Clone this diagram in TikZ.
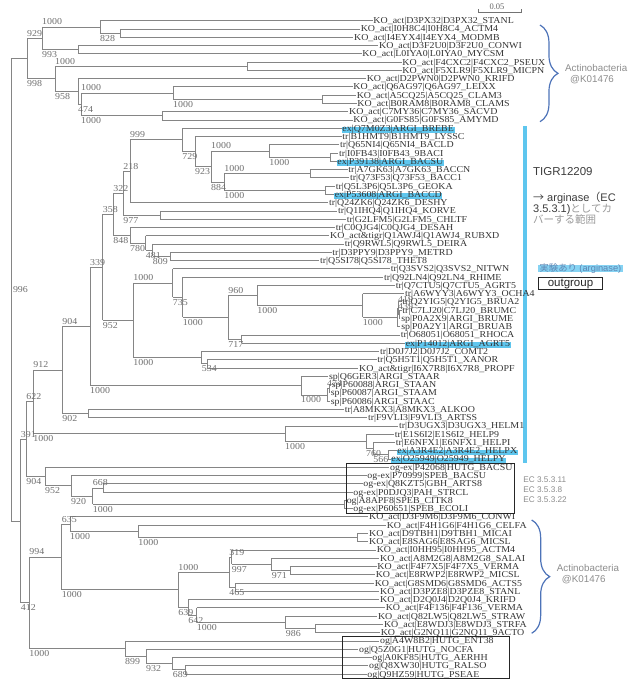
\documentclass[tikz,border=0pt]{standalone}
\usepackage{fontspec}
\setmainfont{Liberation Serif}
\setsansfont{Liberation Sans}
\newfontfamily\lblfont[FakeStretch=1.09]{Liberation Serif}
\newfontfamily\jpfont{Noto Sans CJK JP}
\usetikzlibrary{decorations.pathreplacing}
\definecolor{brgray}{HTML}{858585}
\definecolor{lftxt}{HTML}{333333}
\definecolor{bstxt}{HTML}{6E6E6E}
\definecolor{hlblue}{HTML}{5EC6EE}
\definecolor{hllight}{HTML}{86D3F3}
\definecolor{bracec}{HTML}{4D73B8}
\definecolor{anngray}{HTML}{8C8C8C}
\definecolor{darktxt}{HTML}{3C3C3C}
\definecolor{jpgray}{HTML}{9A9A9A}
\definecolor{exptxt}{HTML}{5F86B4}
\newcounter{bsc}
\tikzset{
  brl/.style={draw=brgray, line width=0.8pt},
  lflab/.style={anchor=base west, inner xsep=0.6pt, inner ysep=0pt, yshift=-3.0pt,
                text height=5.8pt, text depth=1.1pt,
                font=\lblfont\fontsize{9.1}{9.5}\selectfont, text=lftxt},
  lfhl/.style={lflab, fill=hlblue, text height=4.2pt, text depth=1.5pt},
  bsup/.style={anchor=south west, inner sep=0pt, yshift=1.8pt,
               font=\lblfont\fontsize{9.1}{9.5}\selectfont, text=bstxt},
  bsdn/.style={anchor=north west, inner sep=0pt, yshift=-1.8pt,
               font=\lblfont\fontsize{9.1}{9.5}\selectfont, text=bstxt},
  bsfree/.style={anchor=west, inner sep=0pt, font=\lblfont\fontsize{9.1}{9.5}\selectfont, text=bstxt},
  brc/.style={draw=bracec, line width=1.2pt, decorate, decoration={brace, amplitude=18pt}},
  annot/.style={anchor=west, inner sep=0pt, font=\sffamily\fontsize{9.8}{10}\selectfont, text=anngray},
  ecl/.style={anchor=west, inner sep=0pt, font=\sffamily\fontsize{8.2}{9}\selectfont, text=anngray},
  obox/.style={draw=black!85, line width=0.9pt},
  sbar/.style={draw=black!55, line width=0.7pt}
}
% leaf: index, tip x, parent x, text
\newcommand\lf[4]{\draw[brl] (#3,#1) -- (#2,#1); \node[lflab] (l#1) at (#2,#1) {#4};}
\newcommand\lfh[4]{\draw[brl] (#3,#1) -- (#2,#1); \node[lfhl] (l#1) at (#2,#1) {#4};}
% internal node: x, first child y, last child y, parent x
\newcommand\nd[4]{\draw[brl] (#4,{(#2+#3)/2}) -- (#1,{(#2+#3)/2}) (#1,#2) -- (#1,#3);}
\newcommand\bu[3]{\stepcounter{bsc}\node[bsup] (bs\arabic{bsc}) at (#1,#2) {#3};}
\newcommand\bd[3]{\stepcounter{bsc}\node[bsdn] (bs\arabic{bsc}) at (#1,#2) {#3};}
\begin{document}
\begin{tikzpicture}[x=1pt, y=-8.27pt]
\useasboundingbox (0,-1.503) rectangle (640,81.33);
% background bar
\begin{scope}[y=-1pt, yshift=12.43pt]
  \fill[hlblue] (522.7,126) rectangle (527.3,463);
\end{scope}
% ---------- leaves
\lf{1}{372.7}{100}{KO\_act|D3PX32|D3PX32\_STANL}
\lf{2}{360}{120}{KO\_act|I0H8C4|I0H8C4\_ACTM4}
\lf{3}{353.3}{120}{KO\_act|I4EYX4|I4EYX4\_MODMB}
\lf{4}{378.3}{78}{KO\_act|D3F2U0|D3F2U0\_CONWI}
\lf{5}{361.7}{78}{KO\_act|L0IYA0|L0IYA0\_MYCSM}
\lf{6}{401.7}{247}{KO\_act|F4CXC2|F4CXC2\_PSEUX}
\lf{7}{401.7}{247}{KO\_act|F5XLR9|F5XLR9\_MICPN}
\lf{8}{366}{78}{KO\_act|D2PWN0|D2PWN0\_KRIFD}
\lf{9}{352.7}{173}{KO\_act|Q6AG97|Q6AG97\_LEIXX}
\lf{10}{356}{322}{KO\_act|A5CQ25|A5CQ25\_CLAM3}
\lf{11}{356.7}{322}{KO\_act|B0RAM8|B0RAM8\_CLAMS}
\lf{12}{348.3}{162}{KO\_act|C7MY36|C7MY36\_SACVD}
\lf{13}{352.7}{162}{KO\_act|G0FS85|G0FS85\_AMYMD}
\lfh{14}{341.7}{182.3}{ex|Q7M0Z3|ARGI\_BREBE}
\lf{15}{341.7}{195}{tr|B1HMT9|B1HMT9\_LYSSC}
\lf{16}{339.3}{269.3}{tr|Q65NI4|Q65NI4\_BACLD}
\lf{17}{338.3}{330}{tr|I0FB43|I0FB43\_9BACI}
\lfh{18}{336.7}{330}{ex|P39138|ARGI\_BACSU}
\lf{19}{347.7}{310}{tr|A7GK63|A7GK63\_BACCN}
\lf{20}{349.3}{310}{tr|Q73F53|Q73F53\_BACC1}
\lf{21}{335}{325}{tr|Q5L3P6|Q5L3P6\_GEOKA}
\lfh{22}{334}{325}{ex|P53608|ARGI\_BACCD}
\lf{23}{328.3}{130}{tr|Q24ZK6|Q24ZK6\_DESHY}
\lf{24}{337.3}{160}{tr|Q1IHQ4|Q1IHQ4\_KORVE}
\lf{25}{346}{160}{tr|G2LFM5|G2LFM5\_CHLTF}
\lf{26}{335}{130}{tr|C0QJG4|C0QJG4\_DESAH}
\lf{27}{329.3}{145.7}{KO\_act\&tigr|Q1AWJ4|Q1AWJ4\_RUBXD}
\lf{28}{344}{152.7}{tr|Q9RWL5|Q9RWL5\_DEIRA}
\lf{29}{331.7}{170}{tr|D3PPY9|D3PPY9\_METRD}
\lf{30}{319.3}{170}{tr|Q5SI78|Q5SI78\_THET8}
\lf{31}{390}{172.7}{tr|Q3SVS2|Q3SVS2\_NITWN}
\lf{32}{383.3}{182.7}{tr|Q92LN4|Q92LN4\_RHIME}
\lf{33}{395}{257.3}{tr|Q7CTU5|Q7CTU5\_AGRT5}
\lf{34}{404.3}{362.7}{tr|A6WYY3|A6WYY3\_OCHA4}
\lf{35}{401.7}{398.5}{tr|Q2YIG5|Q2YIG5\_BRUA2}
\lf{36}{401.7}{399.5}{tr|C7LJ20|C7LJ20\_BRUMC}
\lf{37}{400.5}{399.5}{sp|P0A2X9|ARGI\_BRUME}
\lf{38}{400.5}{397.5}{sp|P0A2Y1|ARGI\_BRUAB}
\lf{39}{400}{241.7}{tr|O68051|O68051\_RHOCA}
\lfh{40}{405}{241.7}{ex|P14012|ARGI\_AGRT5}
\lf{41}{379.3}{201.7}{tr|D0J7J2|D0J7J2\_COMT2}
\lf{42}{376.7}{207}{tr|Q5H5T1|Q5H5T1\_XANOR}
\lf{43}{358.3}{207}{KO\_act\&tigr|I6X7R8|I6X7R8\_PROPF}
\lf{44}{328.3}{301}{sp|Q6GER3|ARGI\_STAAR}
\lf{45}{331}{329}{sp|P60088|ARGI\_STAAN}
\lf{46}{330}{329}{sp|P60087|ARGI\_STAAM}
\lf{47}{330}{327}{sp|P60086|ARGI\_STAAC}
\lf{48}{344}{88.3}{tr|A8MKX3|A8MKX3\_ALKOO}
\lf{49}{367.3}{88.3}{tr|F9VLI3|F9VLI3\_ARTSS}
\lf{50}{398.3}{285}{tr|D3UGX3|D3UGX3\_HELM1}
\lf{51}{394}{366}{tr|E1S6I2|E1S6I2\_HELP9}
\lf{52}{395}{373.3}{tr|E6NFX1|E6NFX1\_HELPI}
\lfh{53}{396.7}{388}{ex|A3R4E2|A3R4E2\_HELPX}
\lfh{54}{390.7}{388}{ex|O25949|O25949\_HELPY}
\lf{55}{389.3}{45}{og-ex|P42068|HUTG\_BACSU}
\lf{56}{366.7}{71}{og-ex|P70999|SPEB\_BACSU}
\lf{57}{362.7}{103.3}{og-ex|Q8KZT5|GBH\_ARTS8}
\lf{58}{352.7}{103.3}{og-ex|P0DJQ3|PAH\_STRCL}
\lf{59}{346}{344}{og|A8APF8|SPEB\_CITK8}
\lf{60}{352.7}{344}{og-ex|P60651|SPEB\_ECOLI}
\lf{61}{368.3}{70}{KO\_act|D3F9M6|D3F9M6\_CONWI}
\lf{62}{386}{138.3}{KO\_act|F4H1G6|F4H1G6\_CELFA}
\lf{63}{368.3}{357.7}{KO\_act|D9TBH1|D9TBH1\_MICAI}
\lf{64}{368.3}{357.7}{KO\_act|E8SAG6|E8SAG6\_MICSL}
\lf{65}{376}{231.7}{KO\_act|I0HH95|I0HH95\_ACTM4}
\lf{66}{379.3}{271.7}{KO\_act|A8M2G8|A8M2G8\_SALAI}
\lf{67}{376.7}{290}{KO\_act|F4F7X5|F4F7X5\_VERMA}
\lf{68}{375}{290}{KO\_act|E8RWP2|E8RWP2\_MICSL}
\lf{69}{374}{235}{KO\_act|G8SMD6|G8SMD6\_ACTS5}
\lf{70}{379.3}{235}{KO\_act|D3PZE8|D3PZE8\_STANL}
\lf{71}{379.3}{188.3}{KO\_act|D2Q0J4|D2Q0J4\_KRIFD}
\lf{72}{385}{196.7}{KO\_act|F4F136|F4F136\_VERMA}
\lf{73}{377.3}{285.7}{KO\_act|Q82LW5|Q82LW5\_STRAW}
\lf{74}{383.3}{315.7}{KO\_act|E8WDJ3|E8WDJ3\_STRFA}
\lf{75}{380}{315.7}{KO\_act|G2NQ11|G2NQ11\_9ACTO}
\lf{76}{379.3}{125}{og|A4W8B2|HUTG\_ENT38}
\lf{77}{358.3}{146}{og|Q5Z0G1|HUTG\_NOCFA}
\lf{78}{371.7}{172.7}{og|A0KF85|HUTG\_AERHH}
\lf{79}{368.3}{185}{og|Q8XW30|HUTG\_RALSO}
\lf{80}{366.7}{185}{og|Q9HZ59|HUTG\_PSEAE}
% ---------- internal nodes
\nd{120}{2}{3}{100}
\nd{100}{1}{2.5}{42}
\nd{78}{4}{5}{42}
\nd{42}{1.75}{4.5}{27}
\nd{247}{6}{7}{55}
\nd{322}{10}{11}{173}
\nd{173}{9}{10.5}{81}
\nd{162}{12}{13}{81}
\nd{81}{9.75}{12.5}{78}
\nd{78}{8}{11.125}{55}
\nd{55}{6.5}{9.5625}{27}
\nd{27}{3.125}{8.03125}{11}
\nd{330}{17}{18}{269.3}
\nd{269.3}{16}{17.5}{211}
\nd{310}{19}{20}{224.3}
\nd{325}{21}{22}{224.3}
\nd{224.3}{19.5}{21.5}{211}
\nd{211}{16.75}{20.5}{195}
\nd{195}{15}{18.625}{182.3}
\nd{182.3}{14}{16.8125}{130}
\nd{130}{15.40625}{23}{123.3}
\nd{160}{24}{25}{123.3}
\nd{123.3}{19.203125}{24.5}{113.3}
\nd{170}{29}{30}{152.7}
\nd{152.7}{28}{29.5}{145.7}
\nd{145.7}{27}{28.75}{130}
\nd{130}{26}{27.875}{113.3}
\nd{113.3}{21.8515625}{26.9375}{102.7}
\nd{399.5}{36}{37}{398.5}
\nd{398.5}{35}{36.5}{397.5}
\nd{397.5}{35.75}{38}{362.7}
\nd{362.7}{34}{36.875}{257.3}
\nd{257.3}{33}{35.4375}{228.3}
\nd{241.7}{39}{40}{228.3}
\nd{228.3}{34.21875}{39.5}{182.7}
\nd{182.7}{32}{36.859375}{172.7}
\nd{172.7}{31}{34.4296875}{133.3}
\nd{207}{42}{43}{201.7}
\nd{201.7}{41}{42.5}{133.3}
\nd{133.3}{32.71484}{41.75}{102.7}
\nd{102.7}{24.39453}{37.23242}{90}
\nd{329}{45}{46}{327}
\nd{327}{45.5}{47}{301}
\nd{301}{44}{46.25}{90}
\nd{90}{30.81348}{45.125}{62.3}
\nd{88.3}{48}{49}{62.3}
\nd{62.3}{37.96924}{48.5}{33.3}
\nd{388}{53}{54}{373.3}
\nd{373.3}{52}{53.5}{366}
\nd{366}{51}{52.75}{285}
\nd{285}{50}{51.875}{33.3}
\nd{33.3}{43.23462}{50.9375}{26.3}
\nd{103.3}{57}{58}{92.7}
\nd{344}{59}{60}{92.7}
\nd{92.7}{57.5}{59.5}{71}
\nd{71}{56}{58.5}{45}
\nd{45}{55}{57.25}{26.3}
\nd{26.3}{47.08606}{56.125}{20.7}
\nd{357.7}{63}{64}{138.3}
\nd{138.3}{62}{63.5}{70}
\nd{70}{61}{62.75}{61.7}
\nd{290}{67}{68}{271.7}
\nd{271.7}{66}{67.5}{231.7}
\nd{231.7}{65}{66.75}{229.3}
\nd{235}{69}{70}{229.3}
\nd{229.3}{65.875}{69.5}{178.3}
\nd{315.7}{74}{75}{285.7}
\nd{285.7}{73}{74.5}{196.7}
\nd{196.7}{72}{73.75}{188.3}
\nd{188.3}{71}{72.875}{178.3}
\nd{178.3}{67.6875}{71.9375}{61.7}
\nd{61.7}{61.875}{69.8125}{29.3}
\nd{185}{79}{80}{172.7}
\nd{172.7}{78}{79.5}{146}
\nd{146}{77}{78.75}{125}
\nd{125}{76}{77.875}{29.3}
\nd{29.3}{65.84375}{76.9375}{20.7}
\nd{20.7}{51.60553}{71.39063}{11}
\draw[brl] (11,5.578125) -- (11,61.49808);
% ---------- bootstrap values
\node[bsfree] (root) at (12.8,33.54) {996};
\bu{27}{3.125}{929}
\bd{27}{8.03125}{998}
\bu{42}{1.75}{1000}
\bd{42}{4.5}{993}
\bd{100}{2.5}{828}
\bu{55}{6.5}{1000}
\bd{55}{9.5625}{958}
\bd{78}{11.125}{474}
\bu{81}{9.75}{1000}
\bd{81}{12.5}{1000}
\bd{173}{10.5}{1000}
\bu{130}{15.40625}{999}
\bd{182.3}{16.8125}{729}
\bd{195}{18.625}{923}
\bu{211}{16.75}{1000}
\bd{211}{20.5}{884}
\bd{269.3}{17.5}{1000}
\bu{224.3}{19.5}{1000}
\bd{224.3}{21.5}{1000}
\bu{123.3}{19.203125}{218}
\bd{123.3}{24.5}{977}
\bu{113.3}{21.8515625}{322}
\bd{113.3}{26.9375}{848}
\bd{130}{27.875}{780}
\bd{145.7}{28.75}{481}
\bd{152.7}{29.5}{809}
\bu{102.7}{24.39453}{358}
\bd{102.7}{37.23242}{952}
\bu{90}{30.81348}{339}
\bd{90}{45.125}{1000}
\bu{133.3}{32.71484}{1000}
\bd{133.3}{41.75}{1000}
\bd{172.7}{34.4296875}{735}
\bd{182.7}{36.859375}{1000}
\bu{228.3}{34.21875}{960}
\bd{228.3}{39.5}{717}
\bd{257.3}{35.4375}{1000}
\bd{362.7}{36.875}{1000}
\bd{201.7}{42.5}{534}
\node[bsfree] (b419) at (398,34.77) {419};
\node[bsfree] (b439) at (398,35.62) {439};
\bu{327}{45.5}{474}
\bd{301}{46.25}{1000}
\bu{62.3}{37.96924}{904}
\bd{62.3}{48.5}{902}
\bu{33.3}{43.23462}{912}
\bd{33.3}{50.9375}{1000}
\bd{285}{51.875}{1000}
\bd{366}{52.75}{760}
\bd{373.3}{53.5}{566}
\bu{26.3}{47.08606}{622}
\bd{26.3}{56.125}{904}
\bd{45}{57.25}{952}
\bd{71}{58.5}{920}
\bu{92.7}{57.5}{668}
\bd{92.7}{59.5}{1000}
\bu{20.7}{51.60553}{391}
\bd{20.7}{71.39063}{412}
\bu{29.3}{65.84375}{994}
\bd{29.3}{76.9375}{1000}
\bu{61.7}{61.875}{635}
\bd{61.7}{69.8125}{1000}
\bd{70}{62.75}{1000}
\bd{138.3}{63.5}{1000}
\bu{178.3}{67.6875}{1000}
\bd{178.3}{71.9375}{639}
\bu{229.3}{65.875}{319}
\bd{229.3}{69.5}{465}
\bd{231.7}{66.75}{997}
\bd{271.7}{67.5}{971}
\bd{188.3}{72.875}{642}
\bd{196.7}{73.75}{1000}
\bd{285.7}{74.5}{986}
\bd{125}{77.875}{899}
\bd{146}{78.75}{932}
\bd{172.7}{79.5}{689}
% ---------- annotations (pixel coordinates)
\begin{scope}[y=-1pt, yshift=12.43pt]
  % scale bar
  \coordinate (sbl) at (478.3,12.5);
  \coordinate (sbr) at (521.7,12.5);
  \draw[sbar] (sbl) -- (sbr);
  \draw[sbar] (478.3,9.5) -- (sbl);
  \draw[sbar] (521.7,9.5) -- (sbr);
  \node[inner sep=0pt, font=\fontsize{8.5}{9}\selectfont, text=black!60] (sbt) at (497,6.3) {0.05};
  % braces
  \coordinate (bt1) at (540,25);
  \coordinate (bb1) at (540,121.7);
  \draw[brc] (bt1) -- (bb1);
  \node[annot] (act1) at (565,68.3) {Actinobacteria};
  \node[annot] (ko1) at (570,80) {@K01476};
  \coordinate (bt2) at (531.7,520);
  \coordinate (bb2) at (531.7,633.3);
  \draw[brc] (bt2) -- (bb2);
  \node[annot] (act2) at (556.7,568.3) {Actinobacteria};
  \node[annot] (ko2) at (561.7,580) {@K01476};
  % TIGR text
  \node[anchor=west, inner sep=0pt, font=\sffamily\fontsize{11.5}{12}\selectfont, text=darktxt] (tigr) at (533,171.7) {TIGR12209};
  \node[anchor=west, inner sep=0pt, font=\sffamily\fontsize{11}{11}\selectfont, text=darktxt] (jp1) at (533,198.3) {{\jpfont →} arginase{\jpfont （}EC};
  \node[anchor=west, inner sep=0pt, font=\sffamily\fontsize{11}{11}\selectfont, text=darktxt] (jp2) at (533,209.3) {3.5.3.1){\jpfont\fontsize{10.5}{11}\selectfont\color{jpgray}としてカ}};
  \node[anchor=west, inner sep=0pt, font=\jpfont\fontsize{10.5}{11}\selectfont, text=jpgray] (jp3) at (533,220) {バーする範囲};
  % legend
  \fill[hllight] (538,265) rectangle (623,272.5);
  \node[anchor=west, inner sep=0pt, font=\sffamily\fontsize{9.3}{10}\selectfont, text=exptxt] (expl) at (539.5,268.3) {{\jpfont 実験あり} (arginase)};
  \node[draw=black!85, line width=0.9pt, minimum width=64.4pt, minimum height=11.6pt, inner sep=0pt,
        font=\sffamily\fontsize{11.5}{11.5}\selectfont, text=black!85] (ogl) at (570.5,283.5) {outgroup};
  % outgroup boxes
  \draw[obox] (346,463.3) rectangle (514,513.5);
  \draw[obox] (342.7,636.5) rectangle (509.3,678);
  % EC labels
  \node[ecl] (ec1) at (523.3,479.3) {EC 3.5.3.11};
  \node[ecl] (ec2) at (523.3,489.5) {EC 3.5.3.8};
  \node[ecl] (ec3) at (523.3,500) {EC 3.5.3.22};
\end{scope}
\end{tikzpicture}
\end{document}
